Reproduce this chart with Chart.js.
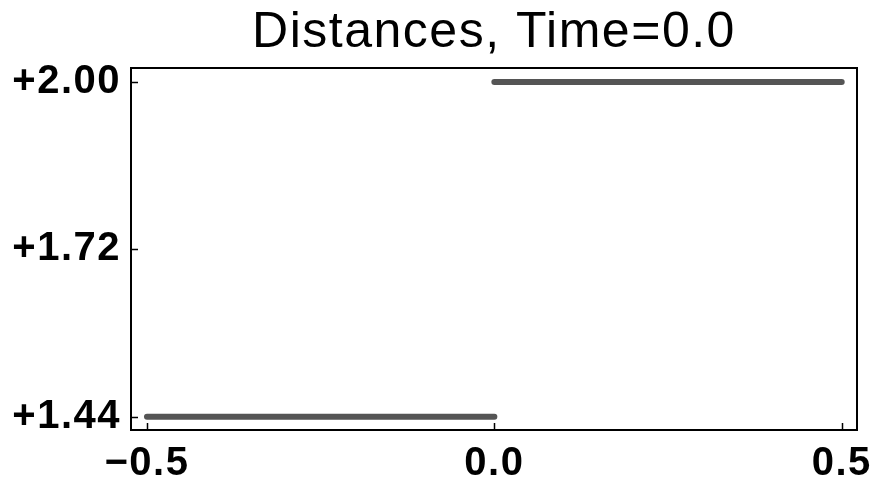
<!DOCTYPE html>
<html>
<head>
<meta charset="utf-8">
<script src="https://cdn.jsdelivr.net/npm/chart.js@4/dist/chart.umd.min.js"></script>
<style>
  html, body { margin: 0; padding: 0; background: #fff; }
  #wrap { width: 872px; height: 487px; }
</style>
</head>
<body>
<div id="wrap"><canvas id="chart"></canvas></div>
<script>
// data
const leftX = [-0.5, 0.0];
const leftY = [1.44, 1.44];
const rightX = [0.0, 0.5];
const rightY = [2.0, 2.0];
const xTicks = [-0.5, 0.0, 0.5];
const yTicks = [1.44, 1.72, 2.0];

const toPts = (xs, ys) => xs.map((x, i) => ({ x: x, y: ys[i] }));

// wider letter spacing, like the old plotting fonts
const spacingPlugin = {
  id: "spacing",
  beforeDraw(chart) { chart.ctx.letterSpacing = "1.5px"; }
};

// frame round the plot + short ticks pointing inward
const framePlugin = {
  id: "frame",
  afterDraw(chart) {
    const c = chart.ctx;
    const a = chart.chartArea;
    const xs = chart.scales.x, ys = chart.scales.y;
    c.save();
    c.strokeStyle = "#000";
    c.lineWidth = 2;
    c.strokeRect(a.left, a.top, a.right - a.left, a.bottom - a.top);
    c.lineWidth = 1.5;
    c.beginPath();
    xTicks.forEach(v => {
      const px = Math.round(xs.getPixelForValue(v)) + 0.5;
      c.moveTo(px, a.bottom);
      c.lineTo(px, a.bottom - 7);
    });
    yTicks.forEach(v => {
      const py = Math.round(ys.getPixelForValue(v)) + 0.5;
      c.moveTo(a.left, py);
      c.lineTo(a.left + 7, py);
    });
    c.stroke();
    c.restore();
  }
};

new Chart(document.getElementById("chart"), {
  type: "scatter",
  data: {
    datasets: [
      { data: toPts(leftX, leftY) },
      { data: toPts(rightX, rightY) }
    ]
  },
  options: {
    responsive: true,
    maintainAspectRatio: false,
    animation: false,
    showLine: true,
    elements: {
      point: { radius: 0 },
      line: { borderColor: "#555", borderWidth: 6, borderCapStyle: "round" }
    },
    layout: { padding: { left: 0, right: 15, top: 0, bottom: 0 } },
    plugins: {
      legend: { display: false },
      tooltip: { enabled: false },
      title: {
        display: true,
        fullSize: false,
        text: "Distances, Time=0.0",
        color: "#000",
        font: { family: "Liberation Sans", size: 50, weight: "normal", lineHeight: 1.2 },
        padding: { top: 3, bottom: 5 }
      }
    },
    scales: {
      x: {
        type: "linear",
        min: -0.523,
        max: 0.522,
        grid: { display: false, drawTicks: false },
        border: { display: false },
        afterBuildTicks: s => { s.ticks = xTicks.map(v => ({ value: v })); },
        afterFit: s => { s.height = 57; s.paddingLeft = 0; s.paddingRight = 0; },
        ticks: {
          color: "#000",
          padding: 10,
          maxRotation: 0,
          font: { family: "Liberation Sans", size: 40, weight: "bold" },
          callback: v => (v < 0 ? "\u2212" : "") + Math.abs(v).toFixed(1)
        }
      },
      y: {
        type: "linear",
        min: 1.418,
        max: 2.0234,
        grid: { display: false, drawTicks: false },
        border: { display: false },
        afterBuildTicks: s => { s.ticks = yTicks.map(v => ({ value: v })); },
        afterFit: s => { s.width = 131; s.paddingTop = 0; s.paddingBottom = 0; },
        ticks: {
          color: "#000",
          padding: 10,
          font: { family: "Liberation Sans", size: 40, weight: "bold" },
          callback: v => "+" + v.toFixed(2)
        }
      }
    }
  },
  plugins: [spacingPlugin, framePlugin]
});
</script>
</body>
</html>
